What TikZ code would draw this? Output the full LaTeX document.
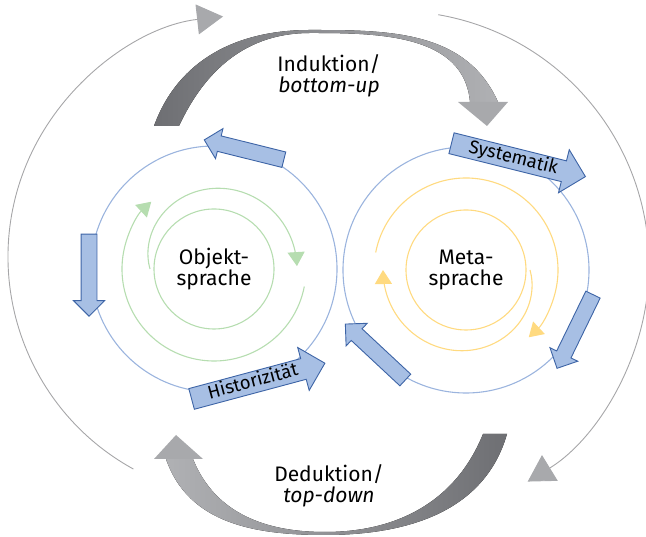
\documentclass[tikz,border=0pt]{standalone}
\usepackage{fontspec}
\setmainfont{Fira Sans}
\usetikzlibrary{arrows.meta,shapes.arrows}

\definecolor{ringblue}{HTML}{9BB4DE}
\definecolor{boxblue}{HTML}{A7BFE4}
\definecolor{edgeblue}{HTML}{3D64A6}
\definecolor{leafgreen}{HTML}{B6DDB0}
\definecolor{sunyellow}{HTML}{FFDA80}
\definecolor{thingray}{HTML}{A6A6A8}
\definecolor{tipgray}{HTML}{A8A9AC}
\definecolor{shaftdark}{HTML}{6E6F73}
\definecolor{shaftlight}{HTML}{B0B1B4}

\begin{document}
\begin{tikzpicture}[x=1pt,y=1pt,
    ring/.style={draw=ringblue,line width=1.1pt,circle,minimum size=246pt,inner sep=0},
    blockarrow/.style={single arrow,draw=edgeblue,fill=boxblue,line width=0.9pt,inner sep=0,
        minimum height=82pt,text height=7.5pt,text depth=7.5pt,single arrow head extend=7.5pt},
    bigarrow/.style={blockarrow,minimum height=138pt,text height=15pt,text depth=5.5pt,
        single arrow head extend=11.5pt,font=\fontsize{18.5}{18.5}\selectfont},
    bigtext/.style={align=center,font=\fontsize{21}{21}\selectfont},
    spiral/.style={line width=1.1pt,-{Triangle[length=14pt,width=17pt]}},
    thinarc/.style={draw=thingray,line width=0.9pt,-{Triangle[length=26pt,width=30pt,color=tipgray]}}]
    \useasboundingbox (0,0) rectangle (646,537);
    \coordinate (objc) at (214,268);
    \coordinate (metac) at (466,267);

    % outer loop
    \coordinate (loopl) at (250,280);
    \coordinate (loopr) at (395,272);
    \draw [thinarc] ([shift={(241.2:242)}]loopl) arc [start angle=241.2,end angle=96.4,radius=242];
    \draw [thinarc] ([shift={(80.2:254)}]loopr) arc [start angle=80.2,end angle=-58.5,radius=254];

    % Induktion / Deduktion
    \fill [left color=shaftdark,right color=shaftlight]
        (154,411) to[out=70,in=180] (310,507) to[out=0,in=114] (498,435)
        -- (470,435) to[out=95,in=0] (310,504) to[out=180,in=65] (179,411) -- cycle;
    \fill [tipgray] (458,435) -- (508,435) -- (487,411) -- cycle;
    \fill [left color=shaftlight,right color=shaftdark]
        (507,103) to[out=-106,in=0] (325,2) to[out=180,in=-71] (166,78)
        -- (193,78) to[out=-68,in=180] (325,5) to[out=0,in=-112] (483,103) -- cycle;
    \fill [tipgray] (154,78) -- (203,78) -- (176,102) -- cycle;

    \node [bigtext] (induk) at (329,461) {Induktion/\\\textit{bottom-up}};
    \node [bigtext] (deduk) at (329,51) {Deduktion/\\\textit{top-down}};

    % rings
    \node [ring] (objring) at (objc) {};
    \node [ring] (metaring) at (metac) {};

    % green spiral
    \begin{scope}[shift={(objc)},leafgreen]
        \draw [line width=1.1pt] (0,0) circle [radius=60];
        \draw [spiral] plot [smooth,domain=180:2,samples=40]
            ({(83-19*(\x/180)^3)*cos(\x)},{(83-19*(\x/180)^3)*sin(\x)});
        \draw [spiral] (-11:92) arc [start angle=-11,end angle=-227,radius=92];
    \end{scope}

    % yellow spiral
    \begin{scope}[shift={(metac)},sunyellow]
        \draw [line width=1.1pt] (0,0) circle [radius=60];
        \draw [spiral] plot [smooth,domain=0:-180,samples=40]
            ({(83-19*((180+\x)/180)^3)*cos(\x)},{(83-19*((180+\x)/180)^3)*sin(\x)});
        \draw [spiral] (169:92) arc [start angle=169,end angle=-47,radius=92];
    \end{scope}

    \node [bigtext] (objtxt) at (objc) {Objekt-\\sprache};
    \node [bigtext] (metatxt) at (metac) {Meta-\\sprache};

    % block arrows
    \node [blockarrow,rotate=166] (objtop) at ([shift={(74:123)}]objc) {};
    \node [blockarrow,rotate=-90] (objleft) at ([shift={(181:125)}]objc) {};
    \node [bigarrow,rotate=15] (histo) at ([shift={(-71:120)}]objc) {Historizität};
    \node [bigarrow,rotate=-14] (syst) at ([shift={(67:121)}]metac) {Systematik};
    \node [blockarrow,rotate=-116] (metaright) at ([shift={(-27.6:125)}]metac) {};
    \node [blockarrow,rotate=137] (metalow) at ([shift={(-136:122)}]metac) {};
\end{tikzpicture}
\end{document}
